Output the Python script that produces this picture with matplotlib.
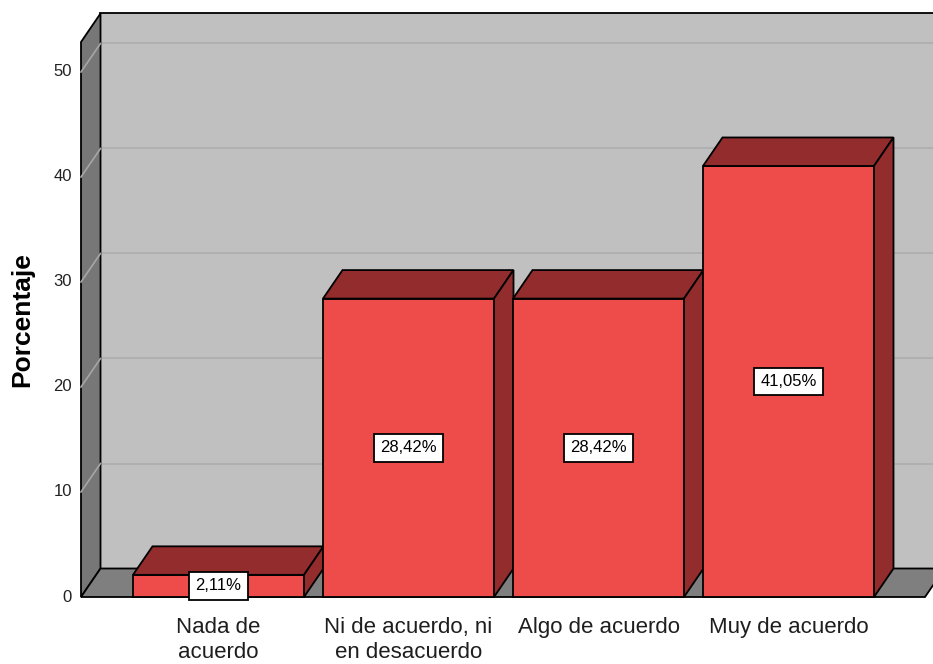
import matplotlib
matplotlib.use("Agg")
import matplotlib.pyplot as plt
from matplotlib.patches import Polygon

categories = ["Nada de\nacuerdo", "Ni de acuerdo, ni\nen desacuerdo", "Algo de acuerdo", "Muy de acuerdo"]
values = [2.11, 28.42, 28.42, 41.05]
labels = ["2,11%", "28,42%", "28,42%", "41,05%"]
yticks = [0, 10, 20, 30, 40, 50]
ylabel = "Porcentaje"

W, H = 933, 664
fig = plt.figure(figsize=(W / 100, H / 100), dpi=100)
ax = fig.add_axes([0, 0, 1, 1])
ax.set_axis_off()

PX_CAT = 190.0
PX_UNIT = 10.5
X0PX = 218.5
Y0PX = 597.0
ax.set_xlim(-X0PX / PX_CAT, (W - X0PX) / PX_CAT)
ax.set_ylim((Y0PX - H) / PX_UNIT, Y0PX / PX_UNIT)

DX = 19.5 / PX_CAT
DY = 28.5 / PX_UNIT
BW = 171 / PX_CAT
XL = (81 - X0PX) / PX_CAT
XR = (925 - X0PX) / PX_CAT
YMAX = (Y0PX - 42) / PX_UNIT

font = ["Liberation Sans", "DejaVu Sans"]

def poly(pts, fc, ec="black", lw=1.3, z=1):
    ax.add_patch(Polygon(pts, closed=True, facecolor=fc, edgecolor=ec, linewidth=lw, zorder=z, joinstyle="miter"))

# back wall
poly([(XL + DX, DY), (XR + DX + 1, DY), (XR + DX + 1, YMAX + DY), (XL + DX, YMAX + DY)], "#c0c0c0", z=1)
for t in yticks[1:]:
    ax.plot([XL + DX, XR + DX + 1], [t + DY, t + DY], color="#adadad", lw=1.2, zorder=2)
# left wall
poly([(XL, 0), (XL + DX, DY), (XL + DX, YMAX + DY), (XL, YMAX)], "#777777", z=3)
for t in yticks[1:]:
    ax.plot([XL, XL + DX], [t, t + DY], color="#a6a6a6", lw=1.2, zorder=4)
# floor
poly([(XL, 0), (XR, 0), (XR + DX, DY), (XL + DX, DY)], "#7f7f7f", z=5)

front_c = "#ee4b4b"
dark_c = "#922c2d"
for i, v in enumerate(values):
    x0, x1 = i - BW / 2, i + BW / 2
    z = 10 + i
    poly([(x0, 0), (x1, 0), (x1, v), (x0, v)], front_c, z=z)
    poly([(x0, v), (x1, v), (x1 + DX, v + DY), (x0 + DX, v + DY)], dark_c, z=z)
    poly([(x1, 0), (x1 + DX, DY), (x1 + DX, v + DY), (x1, v)], dark_c, z=z)
    ax.text(i, v / 2, labels[i], ha="center", va="center", fontsize=12, family=font, zorder=20,
            bbox=dict(boxstyle="square,pad=0.38", facecolor="white", edgecolor="black", linewidth=1.3))
    ax.text(i, (Y0PX - 617) / PX_UNIT, categories[i], ha="center", va="top", fontsize=16,
            family=font, linespacing=1.28, color="#1e1e1e", zorder=20)

for t in yticks:
    ax.text((72 - X0PX) / PX_CAT, t, str(t), ha="right", va="center", fontsize=12, family=font,
            color="#222222", zorder=20)

ax.text((22 - X0PX) / PX_CAT, (Y0PX - 320) / PX_UNIT, ylabel, rotation=90, ha="center", va="center",
        fontsize=19, fontweight="bold", family=font, zorder=20)

fig.savefig("out.png", dpi=100)
